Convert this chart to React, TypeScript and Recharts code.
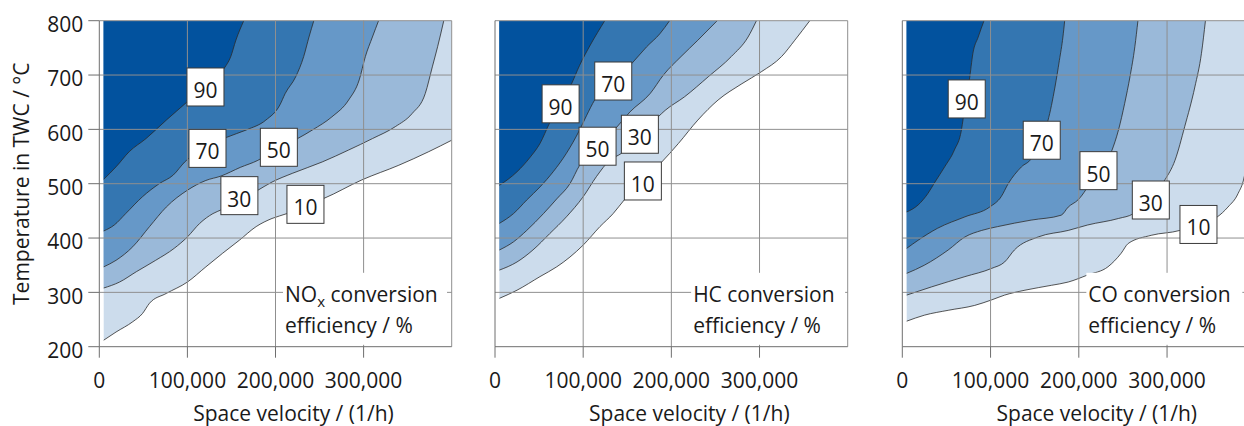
import {
  ComposedChart,
  Area,
  XAxis,
  YAxis,
  ReferenceLine,
  ReferenceDot,
} from "recharts";

// contour levels in %, lowest first so darker bands paint on top
const levels = [10, 30, 50, 70, 90];
const bandFills = ["#ccdcec", "#9ab9d9", "#6698c8", "#3476b1", "#02529e"];

const svTicks = [0, 100000, 200000, 300000];
const tempTicks = [200, 300, 400, 500, 600, 700, 800];
const svGrid = [100000, 200000, 300000, 400000];
const tempGrid = [300, 400, 500, 600, 700, 800];

// iso-efficiency lines, [space velocity (1/h), temperature (°C)]
const nox10 = [[5000, 212], [19000, 227], [38000, 246], [49000, 261], [57000, 280], [76000, 298], [100000, 319], [121000, 347], [140000, 372], [159000, 396], [178000, 421], [196000, 436], [213000, 445], [234000, 460], [255000, 473], [298000, 507], [340000, 534], [374000, 559], [400000, 580]];
const nox30 = [[5000, 308], [23000, 319], [42000, 338], [64000, 359], [85000, 381], [100000, 402], [114000, 427], [129000, 445], [140000, 453], [160000, 470], [180000, 488], [196000, 503], [219000, 519], [253000, 540], [283000, 562], [310000, 583], [336000, 605], [355000, 629], [370000, 666], [378000, 715], [384000, 752], [391000, 800]];
const nox50 = [[5000, 347], [19000, 359], [38000, 384], [57000, 421], [76000, 457], [100000, 488], [121000, 506], [138000, 514], [160000, 530], [180000, 543], [203000, 566], [225000, 583], [242000, 599], [264000, 623], [283000, 654], [295000, 691], [302000, 734], [310000, 770], [317000, 800]];
const nox70 = [[5000, 413], [17000, 424], [30000, 445], [49000, 476], [68000, 500], [84000, 516], [97000, 540], [120000, 565], [144000, 585], [167000, 599], [189000, 617], [205000, 645], [211000, 666], [223000, 697], [232000, 734], [238000, 770], [243500, 800]];
const nox90 = [[5000, 508], [19000, 531], [34000, 559], [53000, 583], [76000, 617], [100000, 651], [121000, 682], [142000, 713], [149000, 733], [155000, 764], [164000, 800]];

const hc10 = [[5000, 289], [25000, 304], [51000, 329], [70000, 347], [85000, 365], [100000, 387], [119000, 421], [134000, 445], [146500, 470], [167000, 505], [188000, 538], [208000, 574], [230000, 617], [253000, 654], [280000, 684], [302000, 706], [325000, 734], [340000, 764], [357000, 800]];
const hc30 = [[5000, 341], [25000, 356], [43000, 378], [62000, 408], [81000, 439], [100000, 476], [115000, 513], [130000, 543], [143500, 556], [164000, 590], [185000, 623], [193000, 635], [215000, 660], [242000, 697], [268000, 734], [287000, 770], [296500, 800]];
const hc50 = [[5000, 378], [21000, 393], [36000, 414], [55000, 445], [70000, 472], [85000, 500], [96000, 534], [116000, 568], [137000, 602], [153000, 632], [176000, 666], [191000, 700], [211000, 734], [230000, 764], [252000, 800]];
const hc70 = [[5000, 427], [21000, 445], [36000, 470], [51000, 494], [66000, 522], [81000, 556], [96000, 599], [104000, 626], [113000, 654], [134000, 688], [155000, 721], [172000, 752], [187000, 776], [198000, 800]];
const hc90 = [[5000, 497], [25000, 522], [40000, 549], [51000, 574], [62000, 612], [74000, 647], [86000, 681], [96000, 718], [108000, 755], [124500, 800]];

const co10 = [[5000, 247], [25000, 258], [52000, 267], [82000, 276], [101000, 286], [116000, 295], [139000, 304], [169000, 313], [188000, 319], [210000, 332], [233000, 347], [248000, 372], [256000, 390], [282000, 405], [314500, 414], [336000, 427], [357000, 439], [369000, 457], [380500, 482], [387500, 513], [392000, 560], [396000, 630], [400000, 700]];
const co30 = [[5000, 295], [33000, 310], [71000, 329], [101000, 344], [116000, 356], [127000, 378], [154000, 402], [188000, 414], [210000, 424], [245000, 436], [262000, 445], [280000, 476], [297500, 507], [309000, 543], [320000, 605], [331500, 678], [339000, 740], [343500, 800]];
const co50 = [[5000, 335], [25000, 350], [52000, 378], [71000, 402], [90000, 414], [108000, 421], [146000, 433], [180000, 442], [188000, 457], [199000, 470], [218000, 514], [237000, 559], [245000, 599], [252000, 648], [258000, 697], [263500, 752], [267000, 800]];
const co70 = [[5000, 381], [18000, 396], [40000, 418], [71000, 439], [99000, 457], [112000, 476], [120000, 500], [135000, 531], [146000, 546], [156000, 581], [165000, 616], [173000, 678], [178000, 727], [182000, 770], [184000, 800]];
const co90 = [[5000, 448], [18000, 461], [29000, 482], [37000, 503], [48000, 531], [59000, 562], [67000, 599], [69000, 620], [72000, 655], [76000, 691], [80000, 740], [86000, 770], [92600, 800]];

// where each level tag sits (same order as levels)
const noxTags = [[234000, 462], [159000, 478], [203800, 567], [122800, 565], [120500, 678]];
const hcTags = [[167700, 505], [164300, 591], [116300, 569], [134100, 689], [74400, 647]];
const coTags = [[335600, 425], [281600, 470], [222300, 524], [158000, 580], [73000, 656]];

const FONT = "'Open Sans', 'Noto Sans', sans-serif";
const FS = 21;
const INK = "#1a1a1a";
const AXIS = "#6e6e6e";
const GRID = "#8f8f8f";

const toPoints = (arr: number[][]) => arr.map(([sv, t]) => ({ sv, t }));
const fmtSv = (v: number) => v.toLocaleString("en-US");

function LevelTag({ cx, cy, level }: { cx: number; cy: number; level: number }) {
  return (
    <g>
      <rect x={cx - 18.5} y={cy - 19} width={37} height={38} fill="#fff" stroke="#3a3a3a" strokeWidth={1} />
      <text x={cx} y={cy + 11} textAnchor="middle" fontSize={FS} fill={INK} fontFamily={FONT}>
        {level}
      </text>
    </g>
  );
}

function NoteBox({ cx, cy, gas, boxWidth }: { cx: number; cy: number; gas: string; boxWidth: number }) {
  return (
    <g fontFamily={FONT} fontSize={FS} fill={INK}>
      <rect x={cx - 2} y={cy} width={boxWidth} height={72} fill="#fff" />
      {gas === "NOx" ? (
        <text x={cx} y={cy + 29}>
          NO
          <tspan fontSize={15} dy={5}>x</tspan>
          <tspan dy={-5}> conversion</tspan>
        </text>
      ) : (
        <text x={cx} y={cy + 29}>{gas} conversion</text>
      )}
      <text x={cx} y={cy + 60}>efficiency / %</text>
    </g>
  );
}

const svTitle = (p: any) => {
  const vb = p.viewBox || { x: 0, y: 0, width: 0 };
  return (
    <text x={vb.x + vb.width / 2 + 18} y={vb.y + 74} textAnchor="middle" fontSize={FS} fill={INK} fontFamily={FONT}>
      Space velocity / (1/h)
    </text>
  );
};

const tempTitle = (p: any) => {
  const vb = p.viewBox || { x: 0, y: 0, height: 0 };
  const x = vb.x + 14;
  const y = vb.y + vb.height / 2;
  return (
    <text x={x} y={y} transform={`rotate(-90 ${x} ${y})`} textAnchor="middle" fontSize={FS} fill={INK} fontFamily={FONT}>
      Temperature in TWC / °C
    </text>
  );
};

const panels = [
  {
    gas: "NOx",
    curves: [nox10, nox30, nox50, nox70, nox90],
    tags: noxTags,
    note: [210800, 336],
    noteWidth: 164,
    left: 0,
    width: 460,
    margin: { top: 20.7, right: 8.3, bottom: 19.3, left: 15.3 },
    tempAxis: true,
  },
  {
    gas: "HC",
    curves: [hc10, hc30, hc50, hc70, hc90],
    tags: hcTags,
    note: [224700, 336],
    noteWidth: 154,
    left: 470,
    width: 390,
    margin: { top: 20.7, right: 12.3, bottom: 19.3, left: 5 },
    tempAxis: false,
  },
  {
    gas: "CO",
    curves: [co10, co30, co50, co70, co90],
    tags: coTags,
    note: [210800, 336],
    noteWidth: 156,
    left: 880,
    width: 390,
    margin: { top: 20.7, right: 14.7, bottom: 19.3, left: 2.3 },
    tempAxis: false,
  },
];

function ContourPanel({ panel }: { panel: (typeof panels)[number] }) {
  return (
    <div style={{ position: "absolute", left: panel.left, top: 0 }}>
      <ComposedChart width={panel.width} height={426} margin={panel.margin}>
        <XAxis
          type="number"
          dataKey="sv"
          domain={[0, 400000]}
          ticks={svTicks}
          interval={0}
          allowDataOverflow
          tickFormatter={fmtSv}
          tickSize={11}
          tickMargin={15}
          height={60}
          stroke={AXIS}
          tick={{ fill: INK, fontSize: FS, fontFamily: FONT }}
          label={svTitle}
        />
        <YAxis
          type="number"
          domain={[200, 800]}
          ticks={tempTicks}
          interval={0}
          allowDataOverflow
          width={panel.tempAxis ? 84 : 20}
          stroke={AXIS}
          tickSize={11}
          tickMargin={5}
          tickLine={panel.tempAxis}
          tick={panel.tempAxis ? { fill: INK, fontSize: FS, fontFamily: FONT, dy: 4 } : false}
          label={panel.tempAxis ? tempTitle : undefined}
        />
        {panel.curves.map((c, i) => (
          <Area
            key={levels[i]}
            data={toPoints(c)}
            dataKey="t"
            type="monotone"
            baseValue={800}
            fill={bandFills[i]}
            fillOpacity={1}
            stroke="#2b2b2b"
            strokeWidth={0.8}
            dot={false}
            activeDot={false}
            isAnimationActive={false}
          />
        ))}
        {svGrid.map((v) => (
          <ReferenceLine key={`x${v}`} x={v} stroke={GRID} strokeWidth={1} />
        ))}
        {tempGrid.map((v) => (
          <ReferenceLine key={`y${v}`} y={v} stroke={GRID} strokeWidth={1} />
        ))}
        <ReferenceDot
          x={panel.note[0]}
          y={panel.note[1]}
          r={0}
          shape={(p: any) => <NoteBox cx={p.cx} cy={p.cy} gas={panel.gas} boxWidth={panel.noteWidth} />}
        />
        {panel.tags.map(([sv, t], i) => (
          <ReferenceDot
            key={levels[i]}
            x={sv}
            y={t}
            r={0}
            shape={(p: any) => <LevelTag cx={p.cx} cy={p.cy} level={levels[i]} />}
          />
        ))}
      </ComposedChart>
    </div>
  );
}

export default function App() {
  return (
    <div
      style={{
        position: "absolute",
        left: 0,
        top: 0,
        width: 1244,
        height: 426,
        overflow: "hidden",
        background: "#fff",
        fontFamily: FONT,
      }}
    >
      {panels.map((p) => (
        <ContourPanel key={p.gas} panel={p} />
      ))}
    </div>
  );
}
